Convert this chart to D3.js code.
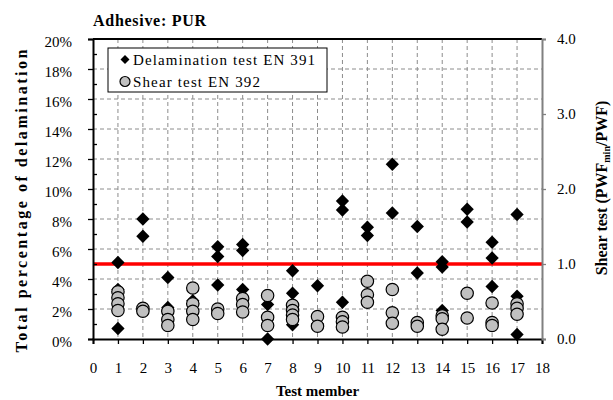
<!DOCTYPE html>
<html>
<head>
<meta charset="utf-8">
<script src="https://cdn.jsdelivr.net/npm/d3@7"></script>
<style>
  html, body { margin: 0; padding: 0; background: #fff; }
  svg { display: block; }
  svg text { font-family: "Liberation Serif", "Tinos", "Times New Roman", "DejaVu Serif", serif !important; fill: #000; }
</style>
</head>
<body>
<svg id="chart" width="613" height="400"></svg>
<script>
// ---------------- data ----------------
const members = [1,2,3,4,5,6,7,8,9,10,11,12,13,14,15,16,17];
const xTickLabels = d3.range(0, 19);
const leftTicks = [0,2,4,6,8,10,12,14,16,18,20];
const rightTicks = [0,1,2,3,4];
const limitValue = 5; // % (= 1.0 on right axis)

// Delamination test EN 391 – total percentage of delamination (%), per test member
const delamination = [
  [5.1, 3.3, 0.7],
  [8.0, 6.85],
  [4.1, 2.1],
  [2.55, 2.35],
  [6.15, 5.5, 3.6],
  [6.3, 5.9, 3.3],
  [2.3, 0.0],
  [4.55, 3.05, 0.95],
  [3.55, 1.0],
  [9.2, 8.6, 2.45],
  [7.45, 6.9],
  [11.65, 8.4],
  [7.5, 4.4],
  [5.15, 4.8, 1.9],
  [8.65, 7.8],
  [6.45, 5.4, 3.5],
  [8.3, 2.85, 0.3]
];

// Shear test EN 392 – PWFmin/PWF, per test member
const shear = [
  [0.63, 0.55, 0.47, 0.38],
  [0.41, 0.37],
  [0.37, 0.26, 0.18],
  [0.68, 0.47, 0.37, 0.26],
  [0.40, 0.34],
  [0.54, 0.46, 0.36],
  [0.58, 0.29, 0.18],
  [0.45, 0.38, 0.32, 0.26],
  [0.30, 0.17],
  [0.29, 0.23, 0.16],
  [0.77, 0.59, 0.49],
  [0.66, 0.35, 0.21],
  [0.22, 0.17],
  [0.31, 0.27, 0.13],
  [0.61, 0.28],
  [0.48, 0.22, 0.18],
  [0.47, 0.41, 0.33]
];

// ---------------- layout ----------------
const FONT = '"Liberation Serif", "Tinos", "Times New Roman", "DejaVu Serif", serif';
const svg = d3.select("#chart").attr("font-family", FONT);
const L = 93, R = 542, T = 39, B = 339;

const x = d3.scaleLinear().domain([0, 18]).range([L, R]);
const yL = d3.scaleLinear().domain([0, 20]).range([B, T]);
const yR = d3.scaleLinear().domain([0, 4]).range([B, T]);

const delamPts = [];
members.forEach((m, i) => delamination[i].forEach(v => delamPts.push({m, v})));
const shearPts = [];
members.forEach((m, i) => shear[i].forEach(v => shearPts.push({m, v})));

// gridlines
const grid = svg.append("g").attr("stroke", "#8c8c8c").attr("stroke-width", 1)
  .attr("stroke-dasharray", "4,3").attr("fill", "none");
grid.selectAll("line.h").data(leftTicks.filter(d => d > 0 && d < 20)).join("line")
  .attr("x1", L).attr("x2", R).attr("y1", d => yL(d)).attr("y2", d => yL(d));
grid.selectAll("line.v").data(members).join("line")
  .attr("x1", d => x(d)).attr("x2", d => x(d)).attr("y1", T).attr("y2", B);

// top border
svg.append("line").attr("x1", L).attr("x2", R).attr("y1", T).attr("y2", T)
  .attr("stroke", "#000").attr("stroke-width", 2);

// limit line
svg.append("line").attr("x1", L).attr("x2", R)
  .attr("y1", yL(limitValue)).attr("y2", yL(limitValue))
  .attr("stroke", "#ff0000").attr("stroke-width", 3.5);

// left axis
const gL = svg.append("g").attr("transform", `translate(${L},0)`)
  .call(d3.axisLeft(yL).tickValues(leftTicks).tickFormat(d => d + "%").tickSize(5).tickPadding(16));
gL.attr("font-family", FONT);
gL.select(".domain").attr("stroke", "#000").attr("stroke-width", 2);
gL.selectAll(".tick line").attr("stroke", "#000").attr("stroke-width", 1.3);
gL.selectAll("text").attr("font-size", 15).attr("dy", "0.5em");
// minor inward ticks
const gLm = svg.append("g").attr("transform", `translate(${L},0)`)
  .call(d3.axisRight(yL).tickValues(d3.range(1, 20, 2)).tickSize(4).tickFormat(""));
gLm.select(".domain").remove();
gLm.selectAll(".tick line").attr("stroke", "#000").attr("stroke-width", 1.3);

// bottom axis
const gB = svg.append("g").attr("transform", `translate(0,${B})`)
  .call(d3.axisBottom(x).tickValues(xTickLabels).tickFormat(d => d).tickSize(5).tickPadding(18));
gB.attr("font-family", FONT);
gB.select(".domain").attr("stroke", "#000").attr("stroke-width", 2);
gB.selectAll(".tick line").attr("stroke", "#000").attr("stroke-width", 1.3);
gB.selectAll("text").attr("font-size", 15);

// right axis
const gR = svg.append("g").attr("transform", `translate(${R},0)`)
  .call(d3.axisRight(yR).tickValues(rightTicks).tickFormat(d3.format(".1f")).tickSize(4).tickPadding(11));
gR.attr("font-family", FONT);
gR.select(".domain").attr("stroke", "#808080").attr("stroke-width", 2);
gR.selectAll(".tick line").attr("stroke", "#808080").attr("stroke-width", 1.3);
gR.selectAll("text").attr("font-size", 15);

// markers
const diamond = d3.symbol().type(d3.symbolSquare).size(88);
svg.append("g").selectAll("path").data(delamPts).join("path")
  .attr("d", diamond)
  .attr("transform", d => `translate(${x(d.m)},${yL(d.v)}) rotate(45)`)
  .attr("fill", "#000");

svg.append("g").selectAll("circle").data(shearPts).join("circle")
  .attr("cx", d => x(d.m)).attr("cy", d => yR(d.v)).attr("r", 6.2)
  .attr("fill", "#c0c0c0").attr("stroke", "#000").attr("stroke-width", 1.2);

// legend
const lg = svg.append("g");
lg.append("rect").attr("x", 108).attr("y", 48).attr("width", 219).attr("height", 44)
  .attr("fill", "#fff").attr("stroke", "#000").attr("stroke-width", 1);
lg.append("path").attr("d", d3.symbol().type(d3.symbolSquare).size(40))
  .attr("transform", "translate(125,59.5) rotate(45)").attr("fill", "#000");
lg.append("circle").attr("cx", 125).attr("cy", 81.5).attr("r", 5)
  .attr("fill", "#c0c0c0").attr("stroke", "#000").attr("stroke-width", 1.2);
lg.append("text").attr("x", 133).attr("y", 65).attr("font-size", 15)
  .attr("textLength", 182).attr("lengthAdjust", "spacing").text("Delamination test EN 391");
lg.append("text").attr("x", 133).attr("y", 87).attr("font-size", 15)
  .attr("textLength", 127).attr("lengthAdjust", "spacing").text("Shear test EN 392");

// titles
svg.append("text").attr("x", 93).attr("y", 26).attr("font-size", 16).attr("font-weight", "bold")
  .attr("textLength", 113).attr("lengthAdjust", "spacing").text("Adhesive: PUR");

svg.append("text").attr("transform", "translate(27,201) rotate(-90)")
  .attr("text-anchor", "middle").attr("font-size", 16).attr("font-weight", "bold")
  .attr("textLength", 303).attr("lengthAdjust", "spacing")
  .text("Total percentage of delamination");

svg.append("text").attr("x", (L + R) / 2).attr("y", 396).attr("text-anchor", "middle")
  .attr("font-size", 15).attr("font-weight", "bold").text("Test member");

const rt = svg.append("text").attr("transform", "translate(607,188) rotate(-90)")
  .attr("text-anchor", "middle").attr("font-size", 16).attr("font-weight", "bold");
rt.append("tspan").text("Shear test (PWF");
rt.append("tspan").attr("font-size", 10).attr("dy", 3).text("min");
rt.append("tspan").attr("dy", -3).text("/PWF)");
</script>
</body>
</html>
